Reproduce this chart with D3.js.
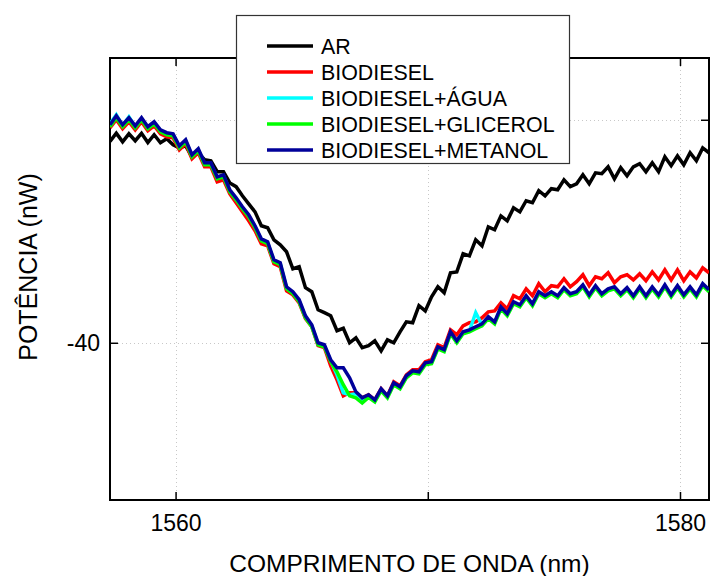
<!DOCTYPE html>
<html>
<head>
<meta charset="utf-8">
<script src="https://cdn.jsdelivr.net/npm/d3@7"></script>
<style>
  html, body { margin: 0; padding: 0; background: #fff; }
  svg { display: block; font-family: "Liberation Sans", Arial, sans-serif; }
</style>
</head>
<body>
<svg id="chart" width="710" height="576"></svg>
<script>
// Wavelength sampling grid (nm)
const wavelengths = [
  1557.40,1557.65,1557.90,1558.15,1558.40,1558.65,1558.90,1559.15,1559.40,1559.65,
  1559.90,1560.15,1560.40,1560.65,1560.90,1561.15,1561.40,1561.65,1561.90,1562.15,
  1562.40,1562.65,1562.90,1563.15,1563.40,1563.65,1563.90,1564.15,1564.40,1564.65,
  1564.90,1565.15,1565.40,1565.65,1565.90,1566.15,1566.40,1566.65,1566.90,1567.15,
  1567.40,1567.65,1567.90,1568.15,1568.40,1568.65,1568.90,1569.15,1569.40,1569.65,
  1569.90,1570.15,1570.40,1570.65,1570.90,1571.15,1571.40,1571.65,1571.90,1572.15,
  1572.40,1572.65,1572.90,1573.15,1573.40,1573.65,1573.90,1574.15,1574.40,1574.65,
  1574.90,1575.15,1575.40,1575.65,1575.90,1576.15,1576.40,1576.65,1576.90,1577.15,
  1577.40,1577.65,1577.90,1578.15,1578.40,1578.65,1578.90,1579.15,1579.40,1579.65,
  1579.90,1580.15,1580.40,1580.65,1580.90,1581.15
];

// Transmitted power for each medium
const ar = [
  -30.97,-30.60,-30.99,-30.63,-30.94,-30.61,-31.02,-30.67,-31.03,-30.85,
  -31.12,-31.26,-31.17,-31.66,-31.48,-31.79,-31.84,-32.33,-32.33,-32.83,
  -33.00,-33.41,-33.77,-34.13,-34.75,-34.84,-35.38,-35.61,-35.92,-36.68,
  -36.59,-37.53,-37.71,-38.52,-38.65,-38.79,-39.46,-39.35,-40.00,-39.78,
  -40.22,-40.13,-39.91,-40.36,-39.87,-40.00,-39.51,-39.06,-39.10,-38.34,
  -38.57,-37.94,-37.49,-37.76,-36.86,-36.82,-36.01,-36.10,-35.38,-35.65,
  -34.80,-34.93,-34.31,-34.53,-33.95,-34.13,-33.63,-33.72,-33.18,-33.41,
  -33.09,-33.14,-32.69,-33.00,-32.87,-32.47,-32.87,-32.38,-32.42,-32.11,
  -32.65,-32.15,-32.51,-32.11,-31.97,-32.33,-31.93,-32.33,-31.66,-32.06,
  -31.62,-32.02,-31.48,-31.84,-31.26,-31.48
];
const biodiesel = [
  -30.36,-30.00,-30.40,-30.09,-30.45,-30.09,-30.49,-30.27,-30.63,-30.76,
  -30.81,-31.35,-31.08,-31.75,-31.48,-32.11,-32.11,-32.78,-32.69,-33.32,
  -33.72,-34.13,-34.53,-34.98,-35.56,-35.65,-36.46,-36.59,-37.67,-37.85,
  -38.21,-38.92,-39.28,-40.13,-40.22,-41.03,-41.66,-42.38,-42.24,-42.24,
  -42.47,-42.33,-42.56,-42.06,-42.38,-41.75,-41.93,-41.44,-41.21,-41.21,
  -40.85,-40.76,-40.09,-40.22,-39.42,-39.64,-39.24,-39.10,-39.06,-38.88,
  -38.61,-38.57,-38.21,-38.48,-37.89,-38.03,-37.58,-37.89,-37.35,-37.71,
  -37.44,-37.49,-37.13,-37.49,-37.26,-36.95,-37.44,-37.04,-37.13,-36.86,
  -37.31,-37.04,-36.95,-37.18,-36.91,-37.22,-36.82,-37.18,-36.73,-37.18,
  -36.73,-37.22,-36.82,-37.09,-36.64,-36.86
];
const biodieselAgua = [
  -30.18,-29.78,-30.27,-29.87,-30.31,-29.96,-30.36,-30.13,-30.49,-30.62,
  -30.67,-31.21,-30.94,-31.61,-31.35,-31.97,-31.98,-32.60,-32.52,-33.19,
  -33.55,-33.95,-34.31,-34.80,-35.39,-35.52,-36.33,-36.46,-37.54,-37.76,
  -38.12,-38.84,-39.24,-40.05,-40.14,-40.81,-41.44,-42.24,-42.33,-42.29,
  -42.56,-42.38,-42.60,-42.11,-42.43,-41.84,-42.02,-41.53,-41.31,-41.35,
  -40.95,-40.90,-40.23,-40.36,-39.56,-39.96,-39.56,-39.47,-38.65,-39.20,
  -38.88,-39.11,-38.44,-38.75,-38.21,-38.35,-37.94,-38.30,-37.76,-37.94,
  -37.76,-37.94,-37.58,-37.85,-37.76,-37.45,-37.90,-37.49,-37.85,-37.63,
  -37.54,-37.85,-37.58,-37.94,-37.54,-37.94,-37.54,-37.90,-37.45,-37.90,
  -37.49,-37.90,-37.54,-37.90,-37.40,-37.67
];
const biodieselGlicerol = [
  -30.31,-29.91,-30.31,-30.00,-30.36,-30.00,-30.40,-30.18,-30.54,-30.67,
  -30.72,-31.26,-30.99,-31.66,-31.39,-32.02,-32.02,-32.65,-32.56,-33.23,
  -33.59,-33.99,-34.35,-34.84,-35.43,-35.56,-36.37,-36.50,-37.58,-37.80,
  -38.16,-38.88,-39.28,-40.09,-40.18,-40.85,-41.30,-41.88,-42.38,-42.47,
  -42.70,-42.45,-42.65,-42.15,-42.47,-41.88,-42.06,-41.57,-41.35,-41.39,
  -40.99,-40.94,-40.27,-40.40,-39.60,-40.00,-39.60,-39.51,-39.37,-39.24,
  -38.92,-39.15,-38.48,-38.79,-38.25,-38.39,-37.98,-38.34,-37.80,-37.98,
  -37.80,-37.98,-37.62,-37.89,-37.80,-37.49,-37.94,-37.53,-37.89,-37.67,
  -37.58,-37.89,-37.62,-37.98,-37.58,-37.98,-37.58,-37.94,-37.49,-37.94,
  -37.53,-37.94,-37.58,-37.94,-37.44,-37.71
];
const biodieselMetanol = [
  -30.22,-29.82,-30.22,-29.91,-30.27,-29.91,-30.31,-30.09,-30.45,-30.58,
  -30.63,-31.17,-30.90,-31.57,-31.30,-31.93,-31.93,-32.56,-32.47,-33.14,
  -33.50,-33.90,-34.26,-34.75,-35.34,-35.47,-36.28,-36.41,-37.49,-37.71,
  -38.07,-38.79,-39.19,-40.00,-40.09,-40.76,-41.12,-41.12,-41.57,-42.20,
  -42.47,-42.33,-42.56,-42.06,-42.38,-41.79,-41.97,-41.48,-41.26,-41.30,
  -40.90,-40.85,-40.18,-40.31,-39.51,-39.91,-39.51,-39.42,-39.28,-39.15,
  -38.83,-39.06,-38.39,-38.70,-38.16,-38.30,-37.89,-38.25,-37.71,-37.89,
  -37.71,-37.89,-37.53,-37.80,-37.71,-37.40,-37.85,-37.44,-37.80,-37.58,
  -37.49,-37.80,-37.53,-37.89,-37.49,-37.89,-37.49,-37.85,-37.40,-37.85,
  -37.44,-37.85,-37.49,-37.85,-37.35,-37.62
];

const seriesNames = ["AR", "BIODIESEL", "BIODIESEL+ÁGUA", "BIODIESEL+GLICEROL", "BIODIESEL+METANOL"];
const seriesColors = ["#000000", "#ff0000", "#00ffff", "#00ff00", "#00009a"];
const seriesValues = [ar, biodiesel, biodieselAgua, biodieselGlicerol, biodieselMetanol];

const xTickValues = [1560, 1570, 1580];
const xTickLabels = ["1560", "", "1580"];
const yTickValues = [-40, -30];
const yTickLabels = ["-40", ""];

const xDomain = [1557.4, 1581.15];
const yDomain = [-47.05, -27.23];

(function draw() {
  const svg = d3.select("#chart");
  const pLeft = 110, pRight = 709, pTop = 58, pBottom = 500;

  const x = d3.scaleLinear().domain(xDomain).range([pLeft, pRight]);
  const y = d3.scaleLinear().domain(yDomain).range([pBottom, pTop]);

  svg.append("defs").append("clipPath").attr("id", "plotClip")
    .append("rect").attr("x", pLeft).attr("y", pTop)
    .attr("width", pRight - pLeft).attr("height", pBottom - pTop);

  // dotted grid
  const grid = svg.append("g").attr("stroke", "#c8c8c8").attr("stroke-width", 1)
    .attr("stroke-dasharray", "1,3");
  grid.selectAll("line.gx").data(xTickValues).join("line").attr("class", "gx")
    .attr("x1", d => Math.round(x(d)) + 0.5).attr("x2", d => Math.round(x(d)) + 0.5)
    .attr("y1", pTop).attr("y2", pBottom);
  grid.selectAll("line.gy").data(yTickValues).join("line").attr("class", "gy")
    .attr("y1", d => Math.round(y(d)) + 0.5).attr("y2", d => Math.round(y(d)) + 0.5)
    .attr("x1", pLeft).attr("x2", pRight);

  // axes with inward ticks on all four sides
  const fmtX = (d, i) => xTickLabels[i];
  const fmtY = (d, i) => yTickLabels[i];
  const axisStyle = g => {
    g.select(".domain").remove();
    g.selectAll(".tick line").attr("stroke", "#000").attr("stroke-width", 1.5);
  };
  svg.append("g").attr("transform", `translate(0,${pBottom})`)
    .call(d3.axisBottom(x).tickValues(xTickValues).tickFormat(fmtX).tickSizeInner(-8).tickPadding(26))
    .call(axisStyle)
    .selectAll("text").attr("font-size", 23).attr("fill", "#000")
    .attr("font-family", "Liberation Sans, Arial, sans-serif").attr("dy", "0.2em");
  svg.append("g").attr("transform", `translate(0,${pTop})`)
    .call(d3.axisTop(x).tickValues(xTickValues).tickFormat("").tickSizeInner(-8))
    .call(axisStyle);
  svg.append("g").attr("transform", `translate(${pLeft},0)`)
    .call(d3.axisLeft(y).tickValues(yTickValues).tickFormat(fmtY).tickSizeInner(-8).tickPadding(10))
    .call(axisStyle)
    .selectAll("text").attr("font-size", 23).attr("fill", "#000")
    .attr("font-family", "Liberation Sans, Arial, sans-serif");
  svg.append("g").attr("transform", `translate(${pRight},0)`)
    .call(d3.axisRight(y).tickValues(yTickValues).tickFormat("").tickSizeInner(-8))
    .call(axisStyle);

  // frame
  svg.append("rect").attr("x", pLeft).attr("y", pTop)
    .attr("width", pRight - pLeft).attr("height", pBottom - pTop)
    .attr("fill", "none").attr("stroke", "#000").attr("stroke-width", 2);

  // spectra
  const line = d3.line().x((d, i) => x(wavelengths[i])).y(d => y(d));
  svg.append("g").attr("clip-path", "url(#plotClip)")
    .selectAll("path").data(seriesValues).join("path")
    .attr("d", d => line(d))
    .attr("fill", "none")
    .attr("stroke", (d, i) => seriesColors[i])
    .attr("stroke-width", 3.5)
    .attr("stroke-linejoin", "miter");

  // axis titles
  svg.append("text").attr("x", (pLeft + pRight) / 2).attr("y", 572)
    .attr("text-anchor", "middle").attr("font-size", 24.5).attr("fill", "#000")
    .text("COMPRIMENTO DE ONDA (nm)");
  svg.append("text").attr("transform", "translate(37,267) rotate(-90)")
    .attr("text-anchor", "middle").attr("font-size", 25).attr("fill", "#000")
    .text("POTÊNCIA (nW)");

  // legend
  const legend = svg.append("g");
  legend.append("rect").attr("x", 236.5).attr("y", 15.5).attr("width", 333).attr("height", 148)
    .attr("fill", "#fff").attr("stroke", "#333").attr("stroke-width", 1.2);
  const rowY = i => 46 + i * 26;
  legend.selectAll("line").data(seriesNames).join("line")
    .attr("x1", 267).attr("x2", 313)
    .attr("y1", (d, i) => rowY(i)).attr("y2", (d, i) => rowY(i))
    .attr("stroke", (d, i) => seriesColors[i]).attr("stroke-width", 3.5);
  legend.selectAll("text").data(seriesNames).join("text")
    .attr("x", 321).attr("y", (d, i) => rowY(i) + 7.5)
    .attr("font-size", 21.4).attr("fill", "#000")
    .text(d => d);
})();
</script>
</body>
</html>
